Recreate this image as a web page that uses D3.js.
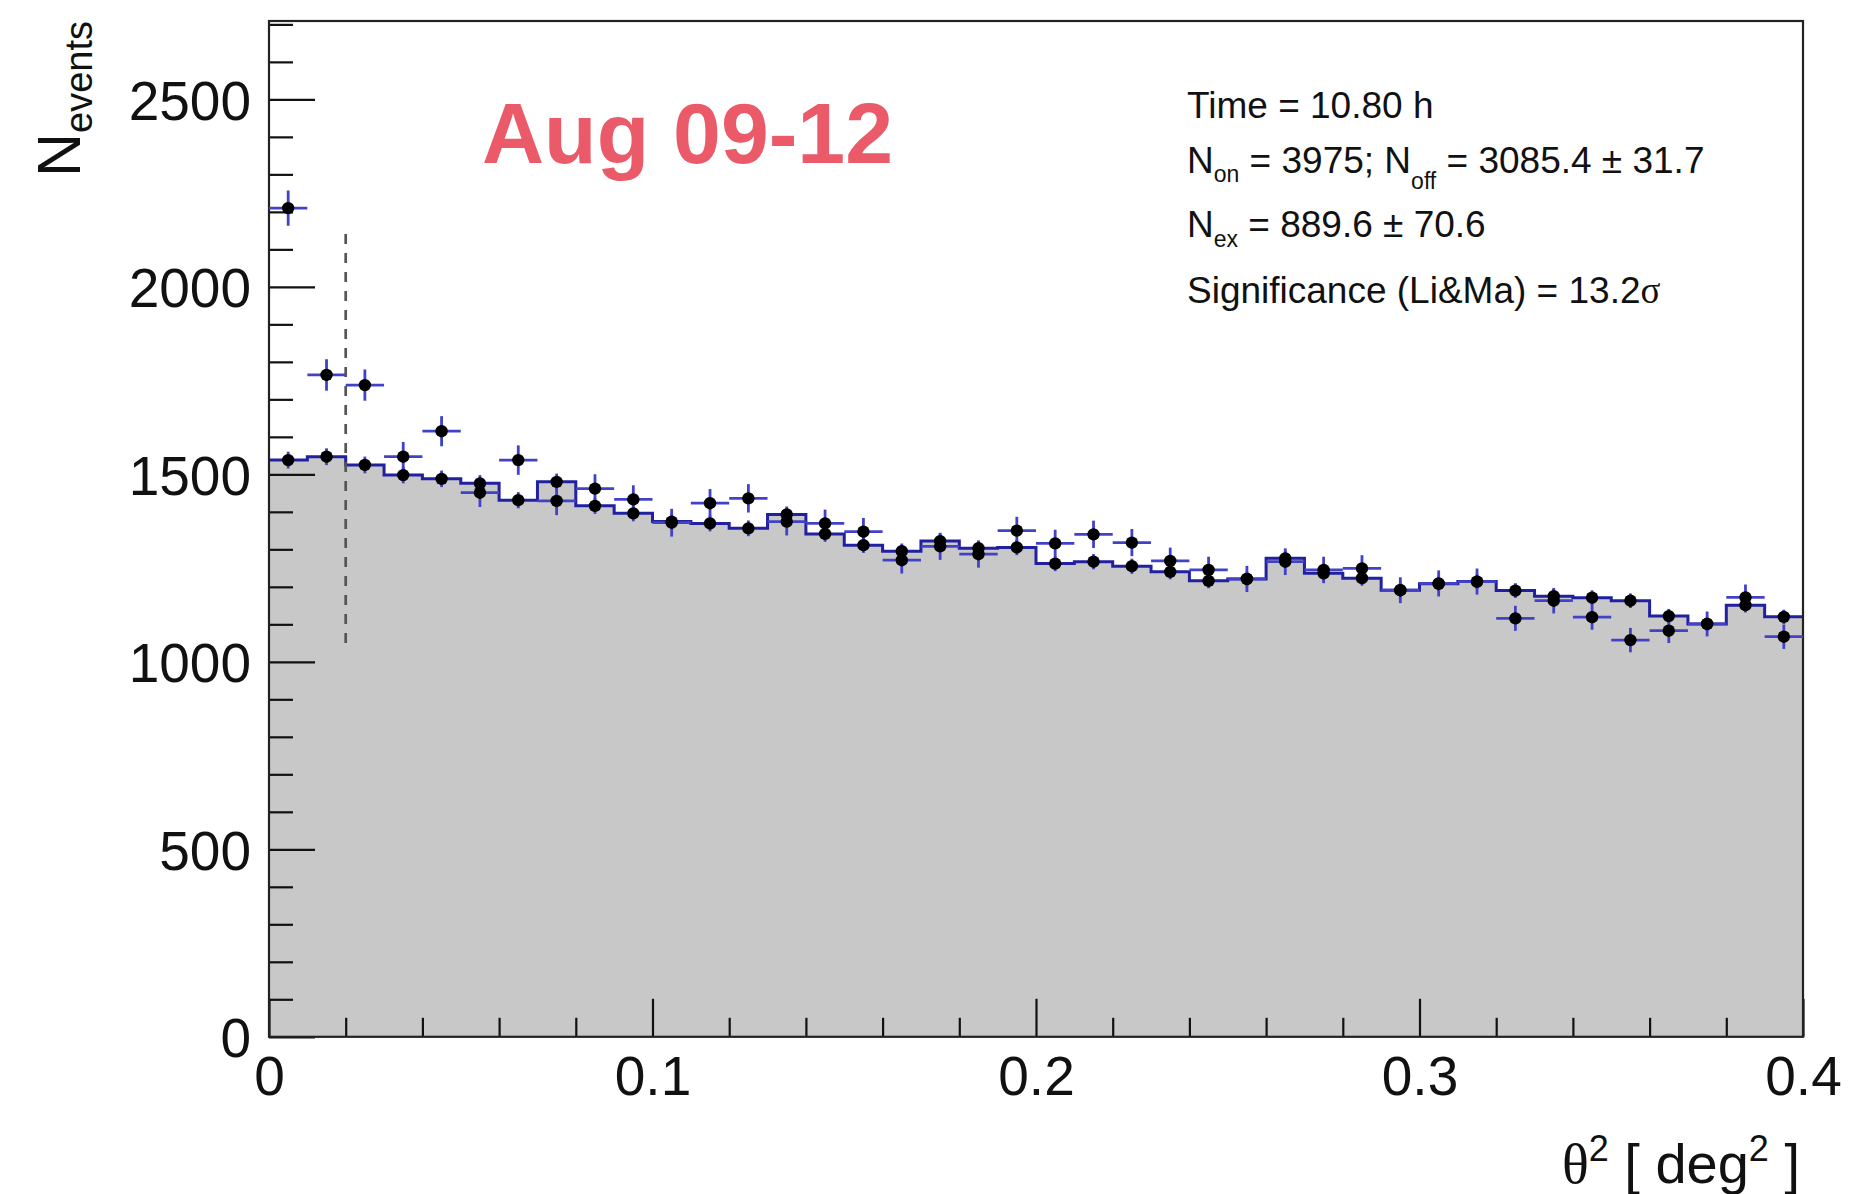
<!DOCTYPE html>
<html>
<head>
<meta charset="utf-8">
<script src="https://cdn.jsdelivr.net/npm/d3@7"></script>
<style>
  body { margin: 0; background: #fff; }
  svg { display: block; font-family: "Liberation Sans", Arial, Helvetica, sans-serif; }
  .greek { font-family: "Liberation Serif", "DejaVu Serif", serif; }
</style>
</head>
<body>
<svg id="chart" width="1850" height="1194"></svg>
<script>
// theta^2 plot: ON counts as points, normalised OFF counts as grey histogram (+ points).

const binWidth = 0.01;

// ON events per theta^2 bin (40 bins, 0 .. 0.4 deg^2)
const onCounts = [
  2210, 1765, 1738, 1547, 1615, 1451, 1538, 1429, 1462, 1433,
  1371, 1423, 1436, 1374, 1369, 1347, 1271, 1308, 1287, 1350,
  1316, 1340, 1318, 1269, 1245, 1221, 1267, 1245, 1249, 1191,
  1209, 1214, 1116, 1163, 1119, 1058, 1083, 1101, 1172, 1067
];

// normalised OFF events per bin
const offCounts = [
  1538, 1547, 1525, 1498, 1488, 1476, 1431, 1480, 1416, 1396,
  1374, 1369, 1356, 1393, 1341, 1311, 1295, 1322, 1303, 1305,
  1262, 1267, 1255, 1240, 1216, 1221, 1276, 1236, 1223, 1191,
  1208, 1214, 1190, 1175, 1171, 1163, 1122, 1101, 1151, 1120
];

// from the stats box: Noff = 3085.4 +- 31.7  ->  alpha = err^2 / Noff
const nOffTotal = 3085.4, nOffErr = 31.7;
const alpha = nOffErr * nOffErr / nOffTotal;

const xMajorTicks = [0, 0.1, 0.2, 0.3, 0.4];
const yMajorTicks = [0, 500, 1000, 1500, 2000, 2500];
const cutTheta2 = 0.02;
const cutLineSpan = [1050, 2150];

const statLines = [
  [{ t: "Time = 10.80 h" }],
  [{ t: "N" }, { t: "on", sub: 9 }, { t: " = 3975; N" }, { t: "off", sub: 16 }, { t: " = 3085.4 \u00b1 31.7" }],
  [{ t: "N" }, { t: "ex", sub: 10 }, { t: " = 889.6 \u00b1 70.6" }],
  [{ t: "Significance (Li&Ma) = 13.2" }, { t: "\u03c3", greek: true }]
];

const svg = d3.select("#chart");
const plotL = 269, plotR = 1803, plotT = 21, plotB = 1036.8;

const x = d3.scaleLinear().domain([0, 0.4]).range([plotL, plotR]);
const y = d3.scaleLinear().domain([0, 2709]).range([plotB, plotT]);

const bins = offCounts.map((v, i) => ({
  lo: i * binWidth,
  mid: (i + 0.5) * binWidth,
  on: onCounts[i],
  off: v,
  onErr: Math.sqrt(onCounts[i]),
  offErr: Math.sqrt(alpha * v)
}));

// step points for the histogram outline
const steps = bins.map(b => [b.lo, b.off]);
steps.push([0.4, bins[bins.length - 1].off]);

svg.append("path")
  .datum(steps)
  .attr("fill", "#c8c8c8")
  .attr("d", d3.area().curve(d3.curveStepAfter)
    .x(d => x(d[0])).y0(y(0)).y1(d => y(d[1])));

svg.append("path")
  .datum(steps)
  .attr("fill", "none")
  .attr("stroke", "#2020a0")
  .attr("stroke-width", 3)
  .attr("d", d3.line().curve(d3.curveStepAfter)
    .x(d => x(d[0])).y(d => y(d[1])));

// signal cut
svg.append("line")
  .attr("x1", x(cutTheta2)).attr("x2", x(cutTheta2))
  .attr("y1", y(cutLineSpan[0])).attr("y2", y(cutLineSpan[1]))
  .attr("stroke", "#555").attr("stroke-width", 2.7)
  .attr("stroke-dasharray", "10,9");

// axes (ticks pointing inward, ROOT style)
const yMinor = d3.range(100, 2800, 100).filter(v => v % 500 !== 0);
const xMinor = d3.range(1, 20).map(i => i * 0.02).filter(v => Math.abs(v * 10 - Math.round(v * 10)) > 1e-6);

const yAx = svg.append("g").attr("transform", `translate(${plotL},0)`)
  .call(d3.axisLeft(y).tickValues(yMajorTicks).tickSize(-46).tickPadding(18).tickFormat(d3.format("d")));
const yAxMinor = svg.append("g").attr("transform", `translate(${plotL},0)`)
  .call(d3.axisLeft(y).tickValues(yMinor).tickSize(-24).tickFormat(""));
const xAx = svg.append("g").attr("transform", `translate(0,${plotB})`)
  .call(d3.axisBottom(x).tickValues(xMajorTicks).tickSize(-38).tickFormat(d => d === 0 ? "0" : d3.format(".1f")(d)));
const xAxMinor = svg.append("g").attr("transform", `translate(0,${plotB})`)
  .call(d3.axisBottom(x).tickValues(xMinor).tickSize(-19).tickFormat(""));

[yAx, yAxMinor, xAx, xAxMinor].forEach(g => {
  g.select(".domain").remove();
  g.selectAll(".tick line").attr("stroke", "#111").attr("stroke-width", 2.2);
  g.selectAll("text").attr("fill", "#111").style("font-size", "55px")
    .style("font-family", "'Liberation Sans', Arial, sans-serif");
});
xAx.selectAll("text").attr("y", 58).attr("dy", 0);
yAx.selectAll("text").attr("dy", "0.36em");

// frame
svg.append("rect")
  .attr("x", plotL).attr("y", plotT)
  .attr("width", plotR - plotL).attr("height", plotB - plotT)
  .attr("fill", "none").attr("stroke", "#222").attr("stroke-width", 2.2);

// error bars
const errColor = "#4242c8";
const halfBin = (x(binWidth) - x(0)) / 2;
const eb = svg.append("g").attr("stroke", errColor).attr("stroke-width", 2.8);
eb.selectAll("line.off-err").data(bins).join("line")
  .attr("class", "off-err")
  .attr("x1", d => x(d.mid)).attr("x2", d => x(d.mid))
  .attr("y1", d => y(d.off - d.offErr)).attr("y2", d => y(d.off + d.offErr));
eb.selectAll("line.on-err").data(bins).join("line")
  .attr("class", "on-err")
  .attr("x1", d => x(d.mid)).attr("x2", d => x(d.mid))
  .attr("y1", d => y(d.on - d.onErr)).attr("y2", d => y(d.on + d.onErr));
eb.selectAll("line.on-bin").data(bins).join("line")
  .attr("class", "on-bin")
  .attr("x1", d => x(d.mid) - halfBin).attr("x2", d => x(d.mid) + halfBin)
  .attr("y1", d => y(d.on)).attr("y2", d => y(d.on));

// markers
svg.append("g").selectAll("circle.off").data(bins).join("circle")
  .attr("class", "off").attr("cx", d => x(d.mid)).attr("cy", d => y(d.off)).attr("r", 6.2).attr("fill", "#000");
svg.append("g").selectAll("circle.on").data(bins).join("circle")
  .attr("class", "on").attr("cx", d => x(d.mid)).attr("cy", d => y(d.on)).attr("r", 6.2).attr("fill", "#000");

// y title: N_events
const yTitle = svg.append("text")
  .attr("transform", "translate(80,21) rotate(-90)")
  .attr("text-anchor", "end")
  .attr("fill", "#111")
  .style("font-size", "61px");
yTitle.append("tspan").text("N");
yTitle.append("tspan").attr("dy", 12).style("font-size", "38px").text("events");

// x title: theta^2 [ deg^2 ]
const xTitle = svg.append("text")
  .attr("x", 1800).attr("y", 1183)
  .attr("text-anchor", "end")
  .attr("fill", "#111")
  .style("font-size", "56px");
xTitle.append("tspan").attr("class", "greek").text("\u03b8");
xTitle.append("tspan").attr("dy", -22).style("font-size", "36px").text("2");
xTitle.append("tspan").attr("dy", 22).text(" [ deg");
xTitle.append("tspan").attr("dy", -22).style("font-size", "36px").text("2");
xTitle.append("tspan").attr("dy", 22).text(" ]");

// period label
svg.append("text")
  .attr("x", 482).attr("y", 163)
  .attr("fill", "#eb5a68")
  .style("font-size", "86px").style("font-weight", "bold")
  .text("Aug 09-12");

// stats box text
const statBase = [118, 173, 237, 303];
statLines.forEach((parts, i) => {
  const t = svg.append("text")
    .attr("x", 1187).attr("y", statBase[i])
    .attr("fill", "#111")
    .style("font-size", "37px");
  let shift = 0;
  parts.forEach(p => {
    const s = t.append("tspan").text(p.t);
    if (p.greek) s.attr("class", "greek");
    if (p.sub) {
      s.attr("dy", p.sub - shift).style("font-size", "23px");
      shift = p.sub;
    } else if (shift) {
      s.attr("dy", -shift);
      shift = 0;
    }
  });
});
</script>
</body>
</html>
